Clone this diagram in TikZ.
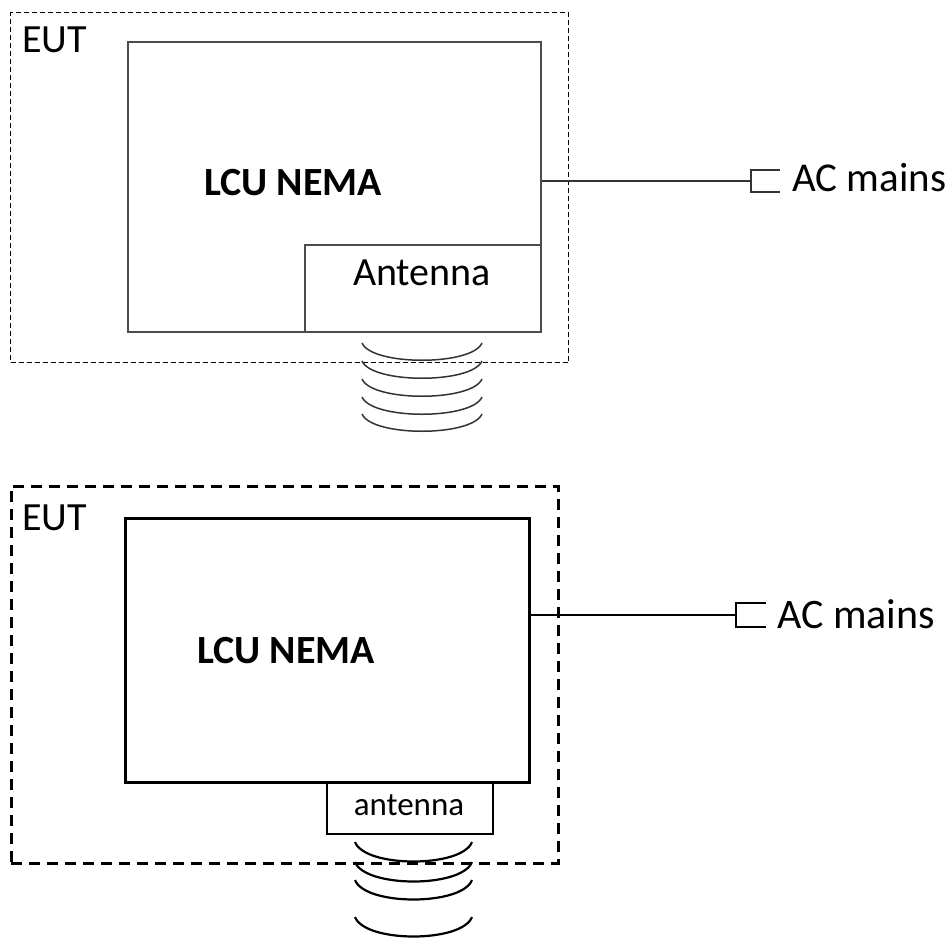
\documentclass[tikz,border=0pt]{standalone}
\usepackage{fontspec}
\setmainfont{Carlito}
\begin{document}
\begin{tikzpicture}[x=1pt,y=-1pt,
  thinbox/.style={draw=black!70,line width=1.6pt,inner sep=0pt,anchor=north west},
  thickbox/.style={draw=black,line width=2.8pt,inner sep=0pt,anchor=north west},
  eutA/.style={draw=black,line width=1.2pt,dash pattern=on 5pt off 3pt,inner sep=0pt,anchor=north west},
  eutB/.style={draw=black,line width=2.8pt,dash pattern=on 11pt off 7pt,inner sep=0pt,anchor=north west},
  lbl/.style={inner sep=0pt,anchor=base west,font=\fontsize{40}{48}\selectfont},
  coilA/.style={draw=black!80,line width=1.5pt},
  coilB/.style={draw=black,line width=2.2pt}]
\useasboundingbox (0,0) rectangle (950,937);

% ---------- top diagram ----------
\node[eutA,minimum width=558pt,minimum height=350pt] (eut1) at (10,12) {};
\node[lbl] (eutt1) at (22,52) {EUT};
\node[thinbox,minimum width=413pt,minimum height=290pt] (lcu1) at (127,41) {};
\node[inner sep=0pt,anchor=base,font=\fontsize{40}{48}\selectfont\bfseries] (lcut1) at (293,195) {LCU NEMA};
\node[thinbox,minimum width=236pt,minimum height=87pt] (ant1) at (304,244) {};
\node[inner sep=0pt,anchor=base,font=\fontsize{40}{48}\selectfont] (antt1) at (422,285) {Antenna};
\coordinate (plug1) at (751,181);
\draw[draw=black!80,line width=1.4pt] (lcu1.east |- plug1) -- (plug1);
\draw[draw=black!80,line width=1.4pt] (780,170) -- (751,170) -- (751,192) -- (780,192);
\node[lbl,font=\fontsize{41}{49}\selectfont] (ac1) at (792,191) {AC mains};
\foreach \y in {343,361,379,397,414}
  \draw[coilA] (362,\y) .. controls (372,\y+23) and (472,\y+23) .. (482,\y);

% ---------- bottom diagram ----------
\node[eutB,minimum width=547pt,minimum height=377pt] (eut2) at (10,485) {};
\node[lbl] (eutt2) at (22,530) {EUT};
\node[thickbox,minimum width=404pt,minimum height=264pt] (lcu2) at (124,517) {};
\node[inner sep=0pt,anchor=base,font=\fontsize{40}{48}\selectfont\bfseries] (lcut2) at (286,663) {LCU NEMA};
\node[thickbox,line width=2.4pt,minimum width=166pt,minimum height=52pt] (ant2) at (326,781) {};
\node[inner sep=0pt,anchor=base,font=\fontsize{33}{40}\selectfont] (antt2) at (409,815) {antenna};
\coordinate (plug2) at (736,615);
\draw[line width=2.8pt] (lcu2.east |- plug2) -- (plug2);
\draw[line width=2.2pt] (766,603) -- (736,603) -- (736,627) -- (766,627);
\node[lbl,font=\fontsize{42}{50}\selectfont] (ac2) at (777,628) {AC mains};
\foreach \y in {842,862,880,917}
  \draw[coilB] (355,\y) .. controls (365,\y+26) and (462,\y+26) .. (472,\y);
\end{tikzpicture}
\end{document}
